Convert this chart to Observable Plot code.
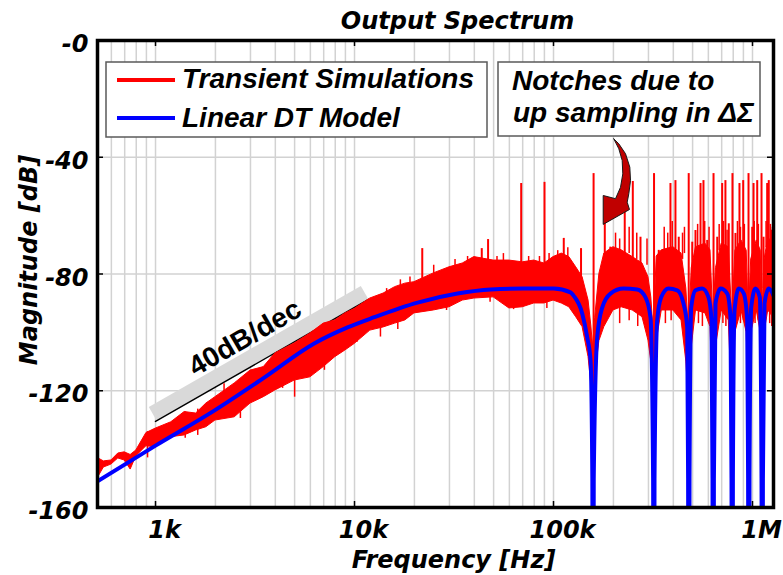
<!DOCTYPE html>
<html>
<head>
<meta charset="utf-8">
<script src="https://cdn.jsdelivr.net/npm/d3@7"></script>
<script src="https://cdn.jsdelivr.net/npm/@observablehq/plot@0.6"></script>
<style>
  html, body { margin: 0; padding: 0; background: #ffffff; }
  #chart { width: 783px; height: 575px; }
</style>
</head>
<body>
<div id="chart"></div>
<script>
// ---------- data ----------
const xTickVals = [1000, 10000, 100000, 1000000];
const xTickLabels = ["1k", "10k", "100k", "1M"];
const yTickVals = [0, -40, -80, -120, -160];
const yTickLabels = ["-0", "-40", "-80", "-120", "-160"];

const gridFreq = [600, 700, 800, 900,
  1000, 2000, 3000, 4000, 5000, 6000, 7000, 8000, 9000,
  10000, 20000, 30000, 40000, 50000, 60000, 70000, 80000, 90000,
  100000, 200000, 300000, 400000, 500000, 600000, 700000, 800000, 900000, 1000000];
const gridDb = [-40, -80, -120];

// Linear DT model (blue)
const blueFreq = [511, 1000, 1973, 3516, 6274, 9226, 12460, 20730, 32930, 48240, 70630, 100000,
  121700, 126100, 139400, 147700, 153500, 156700, 158000, 159300,
  165800, 175700, 193400, 224800, 263400, 289900, 307200, 316600, 319200, 321800,
  331900, 347700, 378400, 418400, 450100, 469800, 474700, 478600, 482500,
  492000, 517200, 558800, 601000, 622300, 629500, 634600, 639800,
  651800, 690600, 746300, 775200, 784300, 790700, 797100,
  812000, 853500, 904300, 940600, 950400, 958100, 965900,
  985100, 1035000, 1088000, 1110000, 1119000, 1128000,
  1149000, 1207000, 1275000];
const blueDb = [-151.0, -138.8, -126.8, -115.5, -103.8, -98.3, -94.9, -89.8, -86.7, -85.3, -85.0, -85.0,
  -86.3, -87.4, -93.5, -101.7, -109.6, -150, -300, -150,
  -101.7, -91.5, -86.7, -85.0, -85.3, -88.0, -94.9, -150, -300, -150,
  -95.9, -88.0, -85.0, -85.6, -90.1, -98.3, -150, -300, -150,
  -91.5, -85.6, -85.0, -88.0, -95.9, -150, -300, -150,
  -90.1, -85.0, -86.7, -94.9, -150, -300, -150,
  -92.5, -85.0, -86.7, -95.9, -150, -300, -150,
  -91.5, -85.0, -88.0, -150, -300, -150,
  -90.1, -85.0, -87.4];

// Transient simulations (red): envelope of the noisy trace
const redFreq = [511, 550, 600, 650, 700, 750, 800, 900, 1000, 1200, 1400, 1600, 1800, 2000,
  2500, 3000, 3500, 4000, 5000, 6000, 7000, 8000, 9000, 10000, 12000, 14000, 16000, 18000,
  20000, 25000, 30000, 35000, 40000, 50000, 60000, 70000, 80000, 90000, 100000, 110000,
  120000, 130000, 140000, 150000, 155000, 158000, 162000, 170000, 180000, 200000, 220000,
  250000, 280000, 300000, 310000, 319000, 330000, 350000, 400000, 440000, 465000, 479000,
  495000, 520000, 580000, 615000, 635000, 655000, 700000, 760000, 791000, 820000, 880000,
  935000, 958000, 985000, 1050000, 1100000, 1119000, 1150000, 1200000, 1275000];
const redHi = [-143.0, -144.2, -143.9, -141.5, -141.1, -142.0, -140.5, -134.5, -133.0, -130.8, -127.3, -127.8, -124.4, -122.2,
  -117.5, -113.1, -111.9, -107.2, -103.8, -100.4, -97.0, -95.9, -93.5, -92.0, -88.4, -86.7, -84.5, -83.3,
  -82.8, -79.8, -77.7, -76.4, -74.2, -75.4, -75.4, -76.0, -75.4, -76.4, -74.2, -73.0,
  -74.2, -77.7, -81.1, -89.1, -98.0, -105.0, -95.0, -80.0, -73.0, -70.8, -71.9,
  -74.2, -76.4, -81.1, -88.0, -100.0, -74.0, -71.9, -70.8, -73.0, -85.0, -100.0,
  -78.0, -70.8, -69.6, -71.9, -95.0, -78.0, -69.6, -70.8, -95.0, -72.0, -68.5,
  -72.0, -95.0, -75.0, -68.5, -72.0, -95.0, -75.0, -67.8, -69.0];
const redLo = [-150.1, -146.3, -145.3, -143.2, -143.9, -147.0, -142.5, -139.0, -139.4, -135.9, -135.3, -133.6, -132.5, -130.2,
  -129.1, -124.4, -122.2, -119.9, -116.5, -115.4, -111.9, -108.5, -106.2, -104.0, -99.4, -98.3, -97.0, -95.9,
  -93.5, -92.5, -91.4, -89.1, -88.4, -88.0, -91.8, -91.4, -90.1, -90.1, -89.1, -90.1,
  -91.4, -94.8, -98.2, -108.5, -118.0, -125.0, -115.0, -103.0, -98.2, -92.5, -91.4,
  -92.5, -94.8, -102.8, -110.0, -125.0, -103.0, -92.5, -92.5, -95.9, -110.0, -125.0,
  -105.0, -92.5, -93.5, -98.2, -125.0, -105.0, -92.5, -95.9, -125.0, -100.0, -92.5,
  -100.0, -125.0, -100.0, -92.5, -100.0, -125.0, -100.0, -92.5, -95.0];

// short upward excursions of the noisy trace
const upFreq = [912, 1410, 2210, 3130, 4180, 5670, 7330, 9530, 11600, 14500, 17000, 19000,
  25000, 32000, 37000, 52000, 56000, 75000, 85000, 95000, 105000, 118000,
  205000, 215000, 240000, 262000, 295000, 360000, 375000, 395000, 445000, 455000,
  530000, 575000, 605000, 680000, 715000, 745000, 840000, 870000, 910000,
  1020000, 1070000, 1170000, 1230000, 1260000];
const upTop = [-134.0, -127.3, -117.6, -113.0, -108.3, -106.2, -97.6, -92.5, -89.7, -85.0, -82.0, -81.0,
  -77.0, -75.0, -74.0, -74.0, -73.0, -74.0, -74.0, -73.0, -72.0, -71.0,
  -66.0, -68.0, -64.0, -66.0, -68.0, -64.0, -66.0, -62.0, -66.0, -64.0,
  -63.0, -62.0, -64.0, -63.0, -62.0, -65.0, -62.0, -64.0, -63.0,
  -62.0, -63.0, -62.0, -63.0, -64.0];
// short downward excursions of the noisy trace
const dipFreq = [1630, 2250, 2670, 4350, 5000, 7060, 10300, 13500, 16500, 29000, 48000, 63000, 92600,
  215000, 240000, 265000, 365000, 390000, 535000, 560000, 710000, 735000, 870000, 900000,
  1030000, 1070000, 1220000, 1250000];
const dipBottom = [-135.3, -129.0, -129.5, -119.2, -122.2, -113.0, -103.4, -101.6, -99.0, -92.5, -89.7, -92.2, -91.8,
  -97.0, -96.0, -98.0, -97.0, -96.0, -97.0, -98.0, -97.0, -98.0, -97.0, -96.0,
  -97.0, -96.0, -97.0, -98.0];

// tones at the notch frequencies
const toneFreq = [159000, 320000, 478000, 637000, 793000, 955000, 1110000];
const toneTop = [-45.6, -45.6, -45.6, -45.6, -45.6, -45.6, -45.6];
// other spurs
const spurFreq = [68800, 90100, 181000, 228000, 250300, 387000, 410000, 548000, 567000, 704000, 731000,
  860000, 898000, 1012000, 1056000, 1185000, 1207000,
  21900, 43600, 46900, 112600, 137500, 193000, 273600, 338000, 426000, 498000, 517000,
  592000, 665000, 760000, 821000, 996600, 1136000, 1246000];
const spurTop = [-49.0, -48.6, -55.0, -49.0, -48.3, -49.0, -48.0, -49.0, -48.0, -49.0, -48.0,
  -49.0, -48.0, -49.0, -48.0, -49.0, -48.0,
  -71.3, -71.3, -68.2, -67.8, -71.3, -70.8, -67.4, -71.9, -67.4, -69.1, -65.1,
  -68.5, -67.4, -62.8, -66.1, -64.0, -67.4, -65.0];

// 40 dB/dec annotation
const slopeBandFreq = [966, 11230];
const slopeBandDb = [-127.8, -86.3];
const slopeLineFreq = [1000, 11760];
const slopeLineDb = [-130.5, -88.7];
const slopeLabel = [{f: 2817, v: -101.9, text: "40dB/dec"}];

// curved arrow outline
const arrowFreq = [200900, 212900, 230100, 241800, 243800, 239000, 234600, 240900, 177700, 177700,
  204900, 217100, 222900, 221400, 212900, 200900];
const arrowDb = [-33.7, -35.4, -38.8, -43.4, -48.0, -52.5, -55.4, -57.9, -63.0, -53.1,
  -54.2, -50.3, -45.7, -41.1, -37.1, -33.7];

const legendLabels = ["Transient Simulations", "Linear DT Model"];
const legendColors = ["#ff0000", "#0000ff"];
const noteLines = ["Notches due to", "up sampling in \u0394\u03A3"];

// ---------- tables ----------
const blue = blueFreq.map((f, i) => ({f, v: blueDb[i]}));
const red = redFreq.map((f, i) => ({f, hi: redHi[i], lo: redLo[i]}));
const ups = upFreq.map((f, i) => ({f, top: upTop[i]}));
const dips = dipFreq.map((f, i) => ({f, bottom: dipBottom[i]}));
const tones = toneFreq.map((f, i) => ({f, top: toneTop[i]}));
const spurs = spurFreq.map((f, i) => ({f, top: spurTop[i]}));
const slopeBand = slopeBandFreq.map((f, i) => ({f, v: slopeBandDb[i]}));
const slopeLine = slopeLineFreq.map((f, i) => ({f, v: slopeLineDb[i]}));
const arrow = arrowFreq.map((f, i) => ({f, v: arrowDb[i]}));

const AX = "'DejaVu Sans', sans-serif";
const LG = "'Liberation Sans', Arial, sans-serif";
const W = 783, H = 575, ML = 97, MR = 10, MT = 40, MB = 68;
const axText = {fontSize: 24, fontWeight: "bold", fontStyle: "italic", fontFamily: AX, fill: "#000000"};

const chart = Plot.plot({
  width: W, height: H,
  marginLeft: ML, marginRight: MR, marginTop: MT, marginBottom: MB,
  style: {background: "#ffffff", overflow: "visible", fontFamily: AX},
  x: {type: "log", domain: [511, 1275000]},
  y: {domain: [-160, 0]},
  marks: [
    Plot.ruleX(gridFreq, {stroke: "#d2d2d2", strokeWidth: 1.5}),
    Plot.ruleY(gridDb, {stroke: "#d2d2d2", strokeWidth: 1.5}),
    Plot.line(slopeBand, {x: "f", y: "v", stroke: "#d9d9d9", strokeWidth: 15, strokeLinecap: "butt"}),
    Plot.line(slopeLine, {x: "f", y: "v", stroke: "#000000", strokeWidth: 1.5}),
    Plot.areaY(red, {x: "f", y1: "lo", y2: "hi", fill: "#ff0000", stroke: "#ff0000", strokeWidth: 1, clip: true}),
    Plot.ruleX(ups, {x: "f", y1: d => d.top - 9, y2: "top", stroke: "#ff0000", strokeWidth: 1.5}),
    Plot.ruleX(dips, {x: "f", y1: "bottom", y2: d => d.bottom + 9, stroke: "#ff0000", strokeWidth: 1.5}),
    Plot.ruleX(spurs, {x: "f", y1: -85, y2: "top", stroke: "#ff0000", strokeWidth: 2}),
    Plot.ruleX(tones, {x: "f", y1: -120, y2: "top", stroke: "#ff0000", strokeWidth: 2}),
    Plot.line(blue, {x: "f", y: "v", stroke: "#0000ff", strokeWidth: 4, curve: "monotone-x", clip: true, strokeLinejoin: "round"}),
    Plot.text(slopeLabel, {x: "f", y: "v", text: "text", rotate: -30, fontSize: 28, fontWeight: "bold", fontFamily: LG, fill: "#000000"}),
    Plot.line(arrow, {x: "f", y: "v", fill: "#c00000", stroke: "#1a1a1a", strokeWidth: 1}),
    Plot.tickX(xTickVals, {insetTop: 461, stroke: "#000000", strokeWidth: 1.5}),
    Plot.tickX(xTickVals, {insetBottom: 461, stroke: "#000000", strokeWidth: 1.5}),
    Plot.tickY(gridDb, {insetRight: 670, stroke: "#000000", strokeWidth: 1.5}),
    Plot.tickY(gridDb, {insetLeft: 670, stroke: "#000000", strokeWidth: 1.5}),
    Plot.frame({stroke: "#000000", strokeWidth: 3.5}),
    Plot.axisX(xTickVals, {tickSize: 0, tickPadding: 13, dx: 9, label: null,
      tickFormat: d => xTickLabels[xTickVals.indexOf(d)], ...axText}),
    Plot.axisY(yTickVals, {tickSize: 0, tickPadding: 9, dy: 4, label: null,
      tickFormat: d => yTickLabels[yTickVals.indexOf(d)], ...axText}),
    Plot.text(["Output Spectrum"], {text: d => d, frameAnchor: "top", dx: 22, dy: -12, lineAnchor: "bottom", ...axText}),
    Plot.text(["Frequency [Hz]"], {text: d => d, frameAnchor: "bottom", dx: 18, dy: 60, lineAnchor: "bottom", ...axText})
  ]
});

// y-axis title, legend and note box (non-data annotations)
const svg = d3.select(chart);
svg.append("text").attr("transform", "translate(37,260) rotate(-90)")
  .attr("text-anchor", "middle").text("Magnitude [dB]")
  .attr("font-family", AX).attr("font-size", 24).attr("font-weight", "bold").attr("font-style", "italic").attr("fill", "#000");

const lg = svg.append("g").attr("text-anchor", "start");
lg.append("rect").attr("x", 106).attr("y", 62).attr("width", 381).attr("height", 75)
  .attr("fill", "#ffffff").attr("stroke", "#5a5a5a").attr("stroke-width", 1.5);
legendLabels.forEach((t, i) => {
  const y = 80 + i * 38;
  lg.append("line").attr("x1", 117).attr("x2", 175).attr("y1", y).attr("y2", y)
    .attr("stroke", legendColors[i]).attr("stroke-width", 4);
  lg.append("text").attr("x", 182).attr("y", 88 + i * 39).text(t)
    .attr("font-family", LG).attr("font-size", 28).attr("font-weight", "bold").attr("font-style", "italic").attr("fill", "#000");
});
const ng = svg.append("g").attr("text-anchor", "start");
ng.append("rect").attr("x", 498).attr("y", 62).attr("width", 262).attr("height", 74)
  .attr("fill", "#ffffff").attr("stroke", "#5a5a5a").attr("stroke-width", 1.5);
noteLines.forEach((t, i) => {
  ng.append("text").attr("x", 512 + i).attr("y", 89.5 + i * 32.5).text(t)
    .attr("font-family", LG).attr("font-size", 28).attr("font-weight", "bold").attr("font-style", "italic").attr("fill", "#000");
});

document.getElementById("chart").appendChild(chart);
</script>
</body>
</html>
